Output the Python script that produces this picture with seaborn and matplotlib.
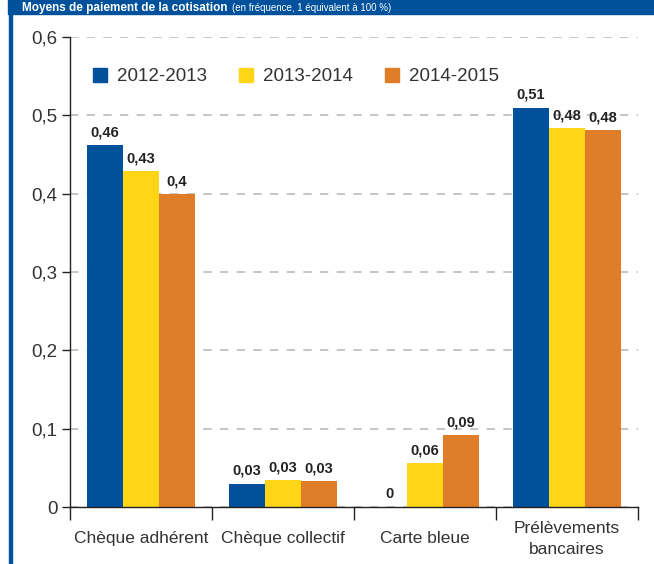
import matplotlib
matplotlib.use("Agg")
import matplotlib.pyplot as plt
import matplotlib.patches as mpatches
import matplotlib.ticker as mticker
import numpy as np
import pandas as pd
import seaborn as sns

# data
categories = ["Chèque adhérent", "Chèque collectif", "Carte bleue", "Prélèvements\nbancaires"]
years = ["2012-2013", "2013-2014", "2014-2015"]
values_2012 = [0.462, 0.030, 0.0, 0.510]
values_2013 = [0.429, 0.034, 0.056, 0.484]
values_2014 = [0.400, 0.033, 0.092, 0.481]
labels_2012 = ["0,46", "0,03", "0", "0,51"]
labels_2013 = ["0,43", "0,03", "0,06", "0,48"]
labels_2014 = ["0,4", "0,03", "0,09", "0,48"]
colors = ["#00519B", "#FFD516", "#E07D28"]

title_main = "Moyens de paiement de la cotisation"
title_sub = "(en fréquence, 1 équivalent à 100 %)"

df = pd.DataFrame({
    "categorie": categories * 3,
    "annee": [y for y in years for _ in categories],
    "valeur": values_2012 + values_2013 + values_2014,
})

sns.set_style("white")
plt.rcParams["font.family"] = ["Liberation Sans", "DejaVu Sans"]

fig = plt.figure(figsize=(6.54, 5.64), dpi=100)
ax = fig.add_axes([70 / 654, 57 / 564, 568 / 654, 470 / 564])

sns.barplot(data=df, x="categorie", y="valeur", hue="annee", order=categories,
            hue_order=years, palette=colors, width=0.76, saturation=1,
            linewidth=0, ax=ax, zorder=2)

for cont, labs in zip(ax.containers, [labels_2012, labels_2013, labels_2014]):
    ax.bar_label(cont, labels=labs, padding=4, fontsize=10.5, fontweight="bold",
                 color="#222222")

ax.set_ylim(0, 0.6)
ax.set_xlim(-0.5, 3.5)
ax.set_yticks(np.arange(0, 0.61, 0.1))
ax.yaxis.set_major_formatter(mticker.FuncFormatter(
    lambda v, _: "0" if abs(v) < 1e-9 else f"{v:.1f}".replace(".", ",")))
ax.tick_params(axis="y", left=True, length=6, width=1, color="#222222",
               labelsize=13.5, labelcolor="#333333", pad=3)

ax.set_xticks(range(len(categories)))
ax.set_xticklabels(categories)
ax.set_xticks(np.arange(-0.5, 3.6, 1), minor=True)
ax.tick_params(axis="x", which="major", length=0, labelsize=12.5,
               labelcolor="#333333", pad=23)
for lab in ax.get_xticklabels():
    lab.set_va("center")
    lab.set_linespacing(1.55)
ax.tick_params(axis="x", which="minor", bottom=True, length=9, width=1,
               color="#222222")

ax.yaxis.grid(True, linestyle=(0, (5, 5)), color="#BBBBBB", linewidth=1.2, zorder=0)
ax.set_axisbelow(True)
for side in ["top", "right"]:
    ax.spines[side].set_visible(False)
for side in ["left", "bottom"]:
    ax.spines[side].set_color("#222222")
    ax.spines[side].set_linewidth(1)
ax.spines["bottom"].set_zorder(3)

ax.set_xlabel("")
ax.set_ylabel("")

handles = [mpatches.Patch(color=c, label=y) for c, y in zip(colors, years)]
ax.legend(handles=handles, loc="upper left", bbox_to_anchor=(0.01, 0.97), ncol=3,
          frameon=False, fontsize=13.5, handlelength=0.75, handleheight=0.75,
          handletextpad=0.55, columnspacing=1.7, labelcolor="#333333")

# header band and frame line
fig.patches.append(mpatches.Rectangle((8 / 654, 1 - 14 / 564), 1, 14 / 564,
                                      transform=fig.transFigure, color="#00519B",
                                      zorder=0))
fig.patches.append(mpatches.Rectangle((9 / 654, 0), 2.5 / 654, 1 - 14 / 564,
                                      transform=fig.transFigure, color="#00519B",
                                      zorder=0))
fig.text(22 / 654, 1 - 11 / 564, title_main, color="white", fontsize=8.5,
         fontweight="bold", va="baseline", ha="left", zorder=5)
fig.text(232 / 654, 1 - 11 / 564, title_sub, color="white", fontsize=7,
         va="baseline", ha="left", zorder=5)

fig.savefig("out.png", dpi=100)
